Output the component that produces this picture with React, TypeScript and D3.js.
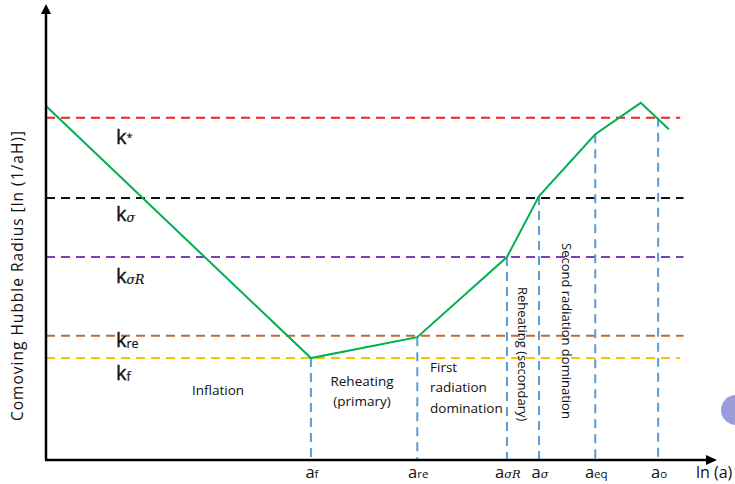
import React from "react";
import * as d3 from "d3";

// x: ln(a) in arbitrary units, y: ln(1/aH) in arbitrary units
const curveX = [0, 39.6, 55.5, 68.9, 73.7, 82.1, 88.9, 93.1];
const curveY = [77.8, 22.4, 27.0, 44.6, 58.0, 71.6, 78.5, 72.7];

const hLineNames = ["kstar", "ksigma", "ksigmaR", "kre", "kf"];
const hLineY = [75.2, 57.6, 44.6, 27.3, 22.4];
const hLineEnd = [94.8, 95.3, 95.3, 95.3, 94.8];
const hLineColors = ["#ff1a1a", "#111111", "#7a3fb0", "#c8692a", "#ffc000"];

const vLineX = [39.6, 55.5, 68.9, 73.7, 82.1, 91.5];
const vLineTop = [22.4, 27.0, 44.6, 58.0, 71.6, 75.2];
const vLineSub = ["f", "re", "σR", "σ", "eq", "o"];
const vLineSubItalic = [false, false, true, true, false, false];

const kLabelY = [69.5, 52.5, 39.0, 24.8, 17.5];
const kLabelSub = ["*", "σ", "σR", "re", "f"];
const kLabelSubItalic = [false, true, true, false, false];

const W = 735;
const H = 484;

export default function App() {
  const x = d3.scaleLinear().domain([0, 100]).range([46, 715]);
  const y = d3.scaleLinear().domain([0, 100]).range([460, 5]);

  const pts: [number, number][] = curveX.map((v, i) => [v, curveY[i]]);
  const line = d3
    .line<[number, number]>()
    .x((d) => x(d[0]))
    .y((d) => y(d[1]));

  const font = "'Open Sans', 'DejaVu Sans', sans-serif";
  const x0 = x(0);
  const y0 = y(0);

  return (
    <svg
      width={W}
      height={H}
      style={{ position: "absolute", left: 0, top: 0, background: "#fff" }}
      fontFamily={font}
    >
      <rect width={W} height={H} fill="#fff" />
      {/* horizontal dashed lines */}
      {hLineY.map((v, i) => (
        <line
          key={hLineNames[i]}
          x1={x0}
          x2={x(hLineEnd[i])}
          y1={y(v)}
          y2={y(v)}
          stroke={hLineColors[i]}
          strokeWidth={2}
          strokeDasharray="9,6"
        />
      ))}
      {/* vertical dashed lines */}
      {vLineX.map((v, i) => (
        <line
          key={"v" + i}
          x1={x(v)}
          x2={x(v)}
          y1={y(vLineTop[i])}
          y2={y0}
          stroke="#5b9bd5"
          strokeWidth={2}
          strokeDasharray="9,6"
        />
      ))}
      {/* green curve */}
      <path d={line(pts) || ""} fill="none" stroke="#00b050" strokeWidth={2} />
      {/* axes */}
      <line x1={x0} x2={x0} y1={y0} y2={12} stroke="#000" strokeWidth={2.5} />
      <path d={`M${x0 - 5},${14} L${x0},${4} L${x0 + 5},${14} Z`} fill="#000" />
      <line x1={x0 - 1} x2={708} y1={y0} y2={y0} stroke="#000" strokeWidth={2.5} />
      <path d={`M706,${y0 - 5} L717,${y0} L706,${y0 + 5} Z`} fill="#000" />

      {/* y axis label */}
      <text
        transform={`translate(23, 276) rotate(-90)`}
        textAnchor="middle"
        fontSize={15.5}
        fill="#111"
        textLength={290}
        lengthAdjust="spacing"
      >
        Comoving Hubble Radius [ln (1/aH)]
      </text>

      {/* k labels */}
      {kLabelY.map((v, i) => (
        <text
          key={"k" + i}
          x={116}
          y={y(v)}
          fontSize={20}
          fill="#111"
          stroke="#111"
          strokeWidth={0.4}
        >
          k
          <tspan
            fontSize={kLabelSub[i] === "*" ? 11 : 12.5}
            fontStyle={kLabelSubItalic[i] ? "italic" : "normal"}
            fontFamily={kLabelSubItalic[i] ? "'DejaVu Serif', serif" : font}
            strokeWidth={0.2}
            dy={kLabelSub[i] === "*" ? -3 : 1}
          >
            {kLabelSub[i]}
          </tspan>
        </text>
      ))}

      {/* x tick labels */}
      {vLineX.map((v, i) => (
        <text
          key={"xl" + i}
          x={x(v) + 1}
          y={478}
          fontSize={16.5}
          textAnchor="middle"
          fill="#111"
        >
          a
          <tspan
            fontSize={11.5}
            fontStyle={vLineSubItalic[i] ? "italic" : "normal"}
            fontFamily={vLineSubItalic[i] ? "'DejaVu Serif', serif" : font}
          >
            {vLineSub[i]}
          </tspan>
        </text>
      ))}
      <text x={696} y={478} fontSize={16} fill="#111">
        ln (a)
      </text>

      {/* region labels */}
      <text x={218} y={395} fontSize={13.5} textAnchor="middle" fill="#111">
        Inflation
      </text>
      <text x={362} y={386} fontSize={13.5} textAnchor="middle" fill="#111">
        Reheating
      </text>
      <text x={362} y={406} fontSize={13.5} textAnchor="middle" fill="#111">
        (primary)
      </text>
      <text x={430} y={372} fontSize={13.5} fill="#111">
        First
      </text>
      <text x={430} y={392} fontSize={13.5} fill="#111">
        radiation
      </text>
      <text x={430} y={413} fontSize={13.5} fill="#111">
        domination
      </text>
      <text transform="translate(518, 287) rotate(90)" fontSize={13} fill="#111">
        Reheating (secondary)
      </text>
      <text transform="translate(562, 243) rotate(90)" fontSize={13} fill="#111">
        Second radiation domination
      </text>

      {/* partial purple circle at right edge */}
      <circle cx={736} cy={410} r={15} fill="#9b9bdb" />
    </svg>
  );
}
